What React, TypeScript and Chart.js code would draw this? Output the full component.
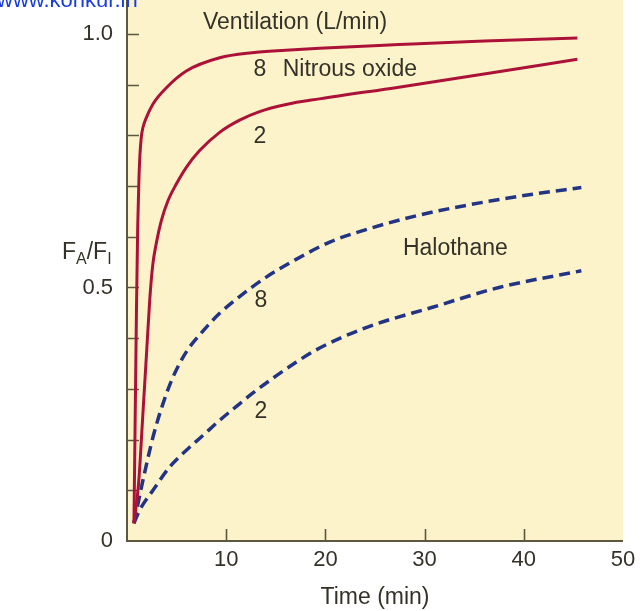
import React, { useEffect, useRef } from "react";
import { Chart, registerables } from "chart.js";
Chart.register(...registerables);

// Nitrous oxide, ventilation 8 L/min
const n2o8X = [0.7, 0.8, 0.95, 1.08, 1.2, 1.3, 1.44, 1.6, 1.95, 2.62, 3.97, 5.98, 9.34, 12.6, 16.0, 19.4, 27.4, 36.0, 45.4];
const n2o8Y = [0.035, 0.2, 0.45, 0.62, 0.711, 0.76, 0.796, 0.815, 0.835, 0.862, 0.894, 0.927, 0.953, 0.963, 0.968, 0.972, 0.979, 0.986, 0.992];
// Nitrous oxide, ventilation 2 L/min
const n2o2X = [0.7, 1.17, 1.6, 2.0, 2.3, 2.6, 2.96, 3.46, 4.13, 4.97, 5.98, 7.32, 9.34, 11.35, 13.36, 16.05, 19.4, 27.4, 36.0, 45.4];
const n2o2Y = [0.035, 0.114, 0.25, 0.38, 0.478, 0.545, 0.588, 0.632, 0.671, 0.704, 0.737, 0.77, 0.806, 0.83, 0.847, 0.861, 0.872, 0.895, 0.921, 0.95];
// Halothane, ventilation 8 L/min
const halo8X = [0.7, 1.61, 2.62, 3.63, 4.63, 5.98, 7.65, 9.34, 11.35, 14.0, 17.0, 20.5, 24.4, 29.5, 34.2, 40.9, 45.8];
const halo8Y = [0.035, 0.12, 0.205, 0.271, 0.323, 0.373, 0.414, 0.449, 0.482, 0.52, 0.555, 0.59, 0.616, 0.643, 0.662, 0.684, 0.697];
// Halothane, ventilation 2 L/min
const halo2X = [0.7, 1.28, 2.62, 4.3, 5.98, 7.65, 9.34, 11.0, 12.7, 14.7, 16.7, 19.07, 24.1, 30.8, 37.5, 45.8];
const halo2Y = [0.035, 0.061, 0.1, 0.146, 0.179, 0.208, 0.238, 0.265, 0.292, 0.321, 0.348, 0.377, 0.421, 0.461, 0.5, 0.533];

// axis
const xTickLabels = ["", "10", "20", "30", "40", "50"];
const yLabeled = ["0", "0.5", "1.0"];
const xTitle = "Time (min)";

// in-plot labels (data coordinates)
const noteTexts = ["Ventilation (L/min)", "8", "Nitrous oxide", "2", "Halothane", "8", "2"];
const noteX = [7.66, 13.4, 15.7, 13.4, 33.1, 13.5, 13.5];
const noteY = [1.022, 0.929, 0.929, 0.797, 0.576, 0.474, 0.256];
const noteAlign = ["left", "center", "left", "center", "center", "center", "center"];

const RED = "rgb(172,18,56)";
const BLUE = "rgb(36,52,132)";
const BEIGE = "rgb(253,243,203)";
const AXIS = "rgb(92,88,64)";
const TEXT = "rgb(52,50,40)";
const FONT = "'Liberation Sans', Arial, Helvetica, sans-serif";

const zip = (xs: number[], ys: number[]) => xs.map((x, i) => ({ x, y: ys[i] }));

const decorPlugin = {
  id: "decor",
  beforeDraw(chart: any) {
    const { ctx, chartArea } = chart;
    ctx.save();
    ctx.fillStyle = BEIGE;
    ctx.fillRect(chartArea.left, chartArea.top, chartArea.right - chartArea.left, chartArea.bottom - chartArea.top);
    ctx.restore();
  },
  beforeDatasetsDraw(chart: any) {
    const { ctx, chartArea, scales } = chart;
    const xs = scales.x;
    const ys = scales.y;
    ctx.save();
    ctx.strokeStyle = AXIS;
    ctx.lineWidth = 2;
    ctx.beginPath();
    ctx.moveTo(chartArea.left, chartArea.top);
    ctx.lineTo(chartArea.left, chartArea.bottom);
    ctx.lineTo(chartArea.right, chartArea.bottom);
    ctx.stroke();
    ctx.lineWidth = 1.6;
    ctx.beginPath();
    ys.ticks.forEach((t: any) => {
      if (t.value <= 0.0001) return;
      const py = Math.round(ys.getPixelForValue(t.value)) + 0.5;
      ctx.moveTo(chartArea.left, py);
      ctx.lineTo(chartArea.left + 12, py);
    });
    xs.ticks.forEach((t: any) => {
      if (t.value <= 0.0001 || t.value >= 49.999) return;
      const px = Math.round(xs.getPixelForValue(t.value)) + 0.5;
      ctx.moveTo(px, chartArea.bottom);
      ctx.lineTo(px, chartArea.bottom - 12);
    });
    ctx.stroke();
    ctx.restore();
  },
  afterDraw(chart: any) {
    const { ctx, scales } = chart;
    ctx.save();
    ctx.fillStyle = TEXT;
    ctx.font = `23px ${FONT}`;
    ctx.textBaseline = "middle";
    noteTexts.forEach((t, i) => {
      ctx.textAlign = noteAlign[i] as CanvasTextAlign;
      ctx.fillText(t, scales.x.getPixelForValue(noteX[i]), scales.y.getPixelForValue(noteY[i]));
    });
    // y-axis title F_A / F_I
    ctx.textAlign = "left";
    ctx.textBaseline = "alphabetic";
    let x = 62;
    const base = 259;
    const parts: [string, boolean][] = [["F", false], ["A", true], ["/F", false], ["I", true]];
    parts.forEach(([s, sub]) => {
      ctx.font = sub ? `16px ${FONT}` : `23px ${FONT}`;
      ctx.fillText(s, x, sub ? base + 5 : base);
      x += ctx.measureText(s).width;
    });
    // watermark
    ctx.font = `22px ${FONT}`;
    ctx.fillStyle = "rgb(24,60,225)";
    ctx.fillText("www.konkur.in", -3, 7);
    ctx.restore();
  },
};

export default function App() {
  const ref = useRef<HTMLCanvasElement>(null);
  useEffect(() => {
    if (!ref.current) return;
    const common = { pointRadius: 0, fill: false, cubicInterpolationMode: "monotone" as const, borderCapStyle: "butt" as const, borderJoinStyle: "round" as const };
    const chart = new Chart(ref.current, {
      type: "line",
      data: {
        datasets: [
          { ...common, data: zip(n2o8X, n2o8Y), borderColor: RED, borderWidth: 3 },
          { ...common, data: zip(n2o2X, n2o2Y), borderColor: RED, borderWidth: 3 },
          { ...common, data: zip(halo8X, halo8Y), borderColor: BLUE, borderWidth: 3.5, borderDash: [11, 6] },
          { ...common, data: zip(halo2X, halo2Y), borderColor: BLUE, borderWidth: 3.5, borderDash: [11, 6] },
        ],
      },
      options: {
        animation: false,
        responsive: true,
        maintainAspectRatio: false,
        layout: { padding: { left: 0, right: 18, top: 0, bottom: 0 } },
        plugins: { legend: { display: false }, tooltip: { enabled: false } },
        scales: {
          x: {
            type: "linear",
            min: 0,
            max: 50,
            grid: { display: false, drawTicks: false },
            border: { display: false },
            ticks: {
              stepSize: 10,
              padding: 6,
              color: TEXT,
              font: { size: 22, family: FONT },
              maxRotation: 0,
              autoSkip: false,
              callback: (v: any) => xTickLabels[Math.round(Number(v) / 10)] ?? "",
            },
            title: { display: true, text: xTitle, color: TEXT, font: { size: 23, family: FONT }, padding: { top: 0, bottom: 0 } },
            afterFit: (s: any) => { s.height = 70; s.paddingLeft = 0; s.paddingRight = 0; },
          },
          y: {
            type: "linear",
            min: 0,
            max: 1.067,
            grid: { display: false, drawTicks: false },
            border: { display: false },
            ticks: {
              stepSize: 0.1,
              includeBounds: false,
              padding: 14,
              color: TEXT,
              font: { size: 22, family: FONT },
              autoSkip: false,
              callback: (v: any) => {
                const n = Number(v);
                if (Math.abs(n) < 1e-6) return yLabeled[0];
                if (Math.abs(n - 0.5) < 1e-6) return yLabeled[1];
                if (Math.abs(n - 1) < 1e-6) return yLabeled[2];
                return "";
              },
            },
            afterFit: (s: any) => { s.width = 127; s.paddingTop = 0; s.paddingBottom = 0; },
          },
        },
      },
      plugins: [decorPlugin],
    });
    return () => chart.destroy();
  }, []);
  return (
    <div style={{ position: "fixed", left: 0, top: 0, width: 641, height: 611, background: "#fff" }}>
      <canvas ref={ref} />
    </div>
  );
}
